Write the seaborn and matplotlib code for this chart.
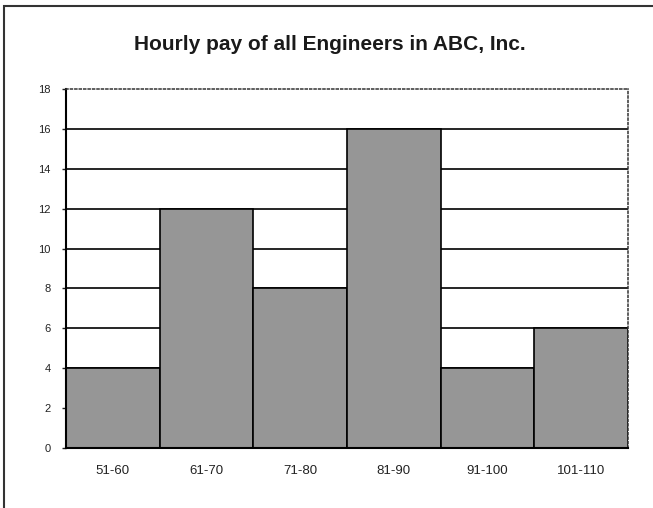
import matplotlib
matplotlib.use('Agg')
import matplotlib.pyplot as plt
import seaborn as sns
import pandas as pd
from matplotlib.patches import Rectangle

# Chart data
pay_ranges = ['51-60', '61-70', '71-80', '81-90', '91-100', '101-110']
engineer_counts = [4, 12, 8, 16, 4, 6]
y_ticks = [0, 2, 4, 6, 8, 10, 12, 14, 16, 18]

df = pd.DataFrame({'Pay': pay_ranges, 'Count': engineer_counts})

sns.set_theme(style='white')
plt.rcParams['font.family'] = ['Liberation Sans', 'DejaVu Sans']

fig = plt.figure(figsize=(6.53, 5.08), dpi=100)
ax = fig.add_axes([66 / 653, 60 / 508, 562 / 653, 359 / 508])

# Outer chart frame (cropped at right and bottom like the reference)
frame_top = 1 - 6 / 508
fig.patches.append(Rectangle((4 / 653, -0.05), 1.2, frame_top + 0.05,
                             transform=fig.transFigure, fill=False,
                             edgecolor='#333333', linewidth=1.5))

sns.barplot(data=df, x='Pay', y='Count', ax=ax, color='#969696',
            width=1.0, edgecolor='black', linewidth=1.2, saturation=1)

ax.set_ylim(0, 18)
ax.set_xlim(-0.5, len(pay_ranges) - 0.5)
ax.set_yticks(y_ticks)
ax.grid(False)
# solid gridlines for the inner ticks only (top one is the dotted border)
for y in y_ticks[1:-1]:
    ax.axhline(y, color='black', linewidth=1.2, zorder=0)

for side in ['left', 'bottom']:
    ax.spines[side].set_color('black')
    ax.spines[side].set_linewidth(1.5)
for side in ['top', 'right']:
    ax.spines[side].set_color('#333333')
    ax.spines[side].set_linewidth(1.1)
    ax.spines[side].set_linestyle((0, (1.3, 1.6)))

ax.tick_params(axis='y', left=True, length=3, width=1, direction='out',
               labelsize=8, colors='#222222', pad=8)
ax.tick_params(axis='x', bottom=False, labelsize=9.5, colors='#222222', pad=6)
ax.set_xlabel('')
ax.set_ylabel('')

fig.text(330 / 653, 1 - 45 / 508, 'Hourly pay of all Engineers in ABC, Inc.',
         ha='center', va='center', fontsize=15, fontweight='bold',
         color='#1a1a1a')

plt.savefig('out.png', dpi=100)
plt.close()
